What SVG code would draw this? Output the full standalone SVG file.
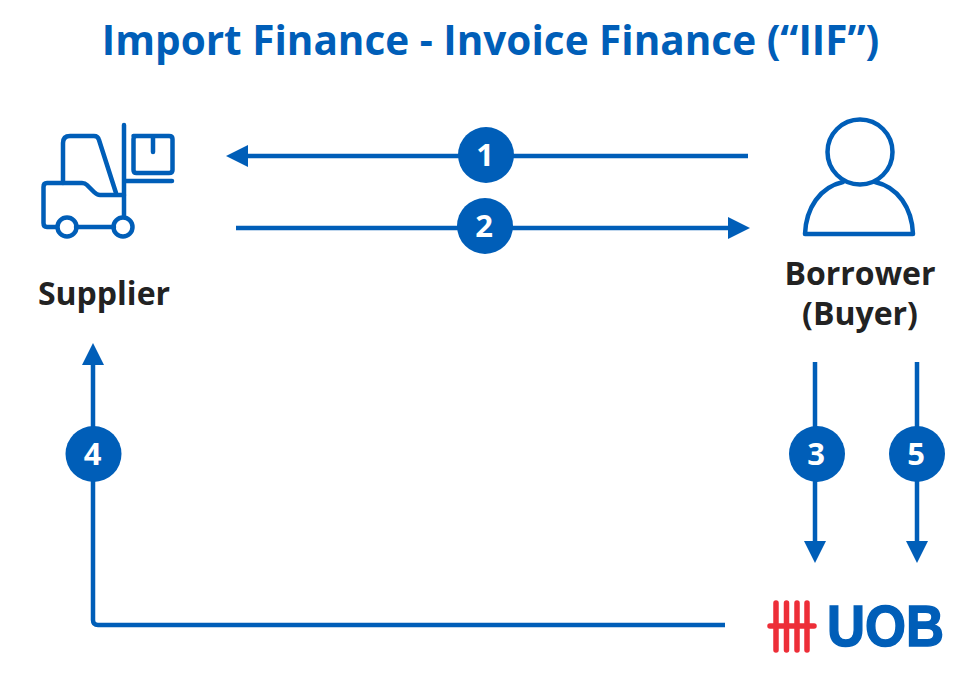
<svg xmlns="http://www.w3.org/2000/svg" width="980" height="690" viewBox="0 0 980 690">
<defs>
<style>
.t{font-family:"Open Sans","Noto Sans",sans-serif;font-weight:700;text-anchor:middle}
.title{font-size:40.500px;fill:#005eb8}
.lbl{font-size:32px;fill:#222}
.num{font-size:31px;fill:#fff}
.ic{fill:none;stroke:#005eb8;stroke-width:4.500;stroke-linecap:round;stroke-linejoin:round}
.c{fill:none;stroke:#005eb8;stroke-width:4.500;stroke-linejoin:round}
.badge{fill:#005eb8}
.red{stroke:#ed2e38;stroke-width:5.500;stroke-linecap:round;fill:none}
</style>
<marker id="a" markerUnits="userSpaceOnUse" markerWidth="24" markerHeight="24" refX="14" refY="11" orient="auto"><path d="M0 0L22 11L0 22Z" fill="#005eb8"/></marker>
</defs>
<rect width="980" height="690" fill="#fff"/>
<text class="t title" x="490.500" y="55">Import Finance - Invoice Finance (“IIF”)</text>
<g id="connectors">
<path class="c" d="M748 156H234" marker-end="url(#a)"/>
<path class="c" d="M236 228H742" marker-end="url(#a)"/>
<path class="c" d="M815 362V555" marker-end="url(#a)"/>
<path class="c" d="M917 362V555" marker-end="url(#a)"/>
<path class="c" d="M725 625H98Q93 625 93 620V351" marker-end="url(#a)"/>
</g>
<g id="supplier">
<path class="ic" d="M124 125V217M124 181H172M133.500 136H169Q172.500 136 172.500 139V170Q172.500 173 169 173H136.500Q133.500 173 133.500 170V139Q133.500 136 136.500 136ZM153 136V152"/>
<path class="ic" d="M63 183V143Q63 136 70 136H94Q98 136 99 140L116 193"/>
<path class="ic" d="M56 227H47Q43.500 227 43.500 223V187Q43.500 183 47 183H82Q85 183 87 185L94 192Q97 195 100 195H124M76 227H114"/>
<circle class="ic" cx="67" cy="227" r="9.500"/>
<circle class="ic" cx="123" cy="227" r="9.500"/>
<text class="t lbl" x="104" y="305">Supplier</text>
</g>
<g id="borrower">
<circle class="ic" cx="860" cy="152" r="32.500"/>
<path class="ic" d="M843 182C820 187 806 208 805 234H913C912 208 898 187 875 182"/>
<text class="t lbl" x="860" y="285">Borrower</text>
<text class="t lbl" x="860" y="325">(Buyer)</text>
</g>
<g id="uob">
<path class="red" d="M776 603V650M786.500 603V650M797 603V650M807 603V650M770 626H814"/>
<text x="827" y="646" font-family="Liberation Sans,Arial,sans-serif" font-weight="700" font-size="58" fill="#005eb8" stroke="#005eb8" stroke-width="1.500" textLength="117" lengthAdjust="spacingAndGlyphs">UOB</text>
</g>
<g id="step1"><circle class="badge" cx="486" cy="155" r="28"/><text class="t num" x="485" y="166">1</text></g>
<g id="step2"><circle class="badge" cx="485" cy="226" r="28"/><text class="t num" x="484" y="237">2</text></g>
<g id="step3"><circle class="badge" cx="817" cy="454" r="28"/><text class="t num" x="816" y="465">3</text></g>
<g id="step4"><circle class="badge" cx="93.500" cy="454" r="28"/><text class="t num" x="92.500" y="465">4</text></g>
<g id="step5"><circle class="badge" cx="917" cy="454" r="28"/><text class="t num" x="916" y="465">5</text></g>
</svg>
